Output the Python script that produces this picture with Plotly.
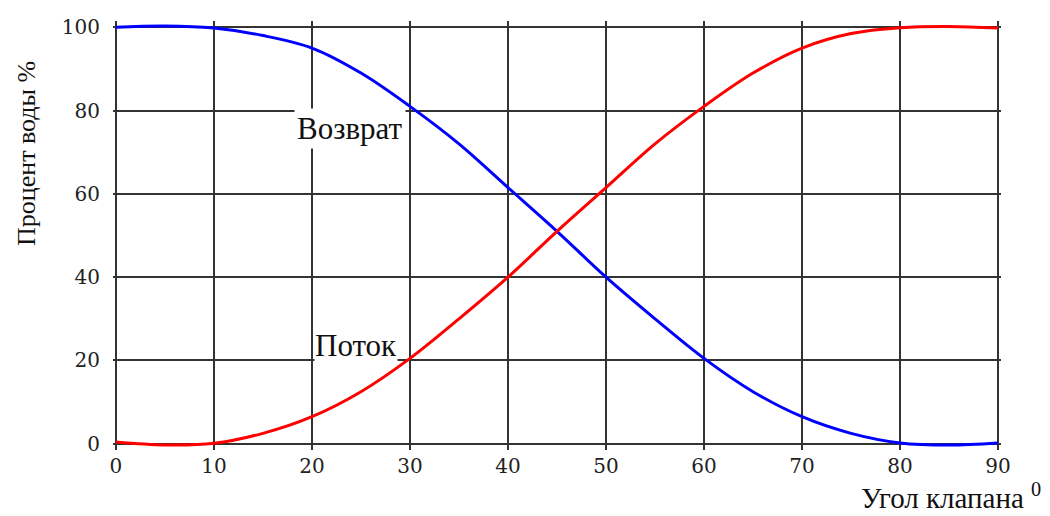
import plotly.graph_objects as go

angles = [0, 5, 10, 15, 20, 25, 30, 35, 40, 45, 50, 55, 60, 65, 70, 75, 80, 85, 90]
vozvrat = [100, 100.3, 99.8, 98, 95, 89, 81, 72, 61.5, 51, 40, 30, 20.5, 12.5, 6.5, 2.5, 0.2, -0.3, 0.2]
potok = [0.4, -0.3, 0.1, 2.5, 6.5, 12.5, 20.5, 30, 40, 51, 61.5, 72, 81, 89, 95, 98.5, 99.9, 100.2, 99.8]

x_ticks = [0, 10, 20, 30, 40, 50, 60, 70, 80, 90]
y_ticks = [0, 20, 40, 60, 80, 100]

ML, MR, MT, MB = 113, 49, 21, 66
W, H = 1050, 516

fig = go.Figure()
fig.add_trace(go.Scatter(x=angles, y=vozvrat, mode="lines", line=dict(color="#0000ff", width=3, shape="spline"),
                         name="Возврат", showlegend=False))
fig.add_trace(go.Scatter(x=angles, y=potok, mode="lines", line=dict(color="#ff0000", width=3, shape="spline"),
                         name="Поток", showlegend=False))

tickfont = dict(family="DejaVu Serif", size=20, color="#222")
fig.update_layout(
    width=W, height=H,
    margin=dict(l=ML, r=MR, t=MT, b=MB),
    plot_bgcolor="white", paper_bgcolor="white",
    xaxis=dict(range=[-0.3, 90.3], tickvals=x_ticks, ticktext=[str(v) for v in x_ticks],
               showgrid=True, gridcolor="#333333", gridwidth=1.6, zeroline=False, showline=False,
               tickfont=tickfont, ticks="", ticklabelstandoff=2),
    yaxis=dict(range=[-1.5, 101.5], tickvals=y_ticks, ticktext=[str(v) for v in y_ticks],
               showgrid=True, gridcolor="#333333", gridwidth=1.6, zeroline=False, showline=False,
               tickfont=tickfont, ticks="", ticklabelstandoff=12),
)


def px2paper(px, py):
    return (px - ML) / (W - ML - MR), (H - MB - py) / (H - MT - MB)


def add_text(px, py, text, size, angle=0, xanchor="center", bg=None, pad=2):
    x, y = px2paper(px, py)
    fig.add_annotation(x=x, y=y, xref="paper", yref="paper", text=text, textangle=angle,
                       showarrow=False, font=dict(family="Liberation Serif", size=size, color="#111"),
                       xanchor=xanchor, yanchor="middle", bgcolor=bg, borderpad=pad)


add_text(26, 154, "Процент воды %", 26, angle=-90)
add_text(1044, 496, "Угол клапана <sup>0</sup>", 29, xanchor="right")
add_text(350, 128, "Возврат", 31, bg="white")
add_text(356, 345, "Поток", 31, bg="white", pad=0)

fig.write_html("out.html", config={"displayModeBar": False},
               post_script="document.body.style.margin='0';document.body.style.padding='0';")
